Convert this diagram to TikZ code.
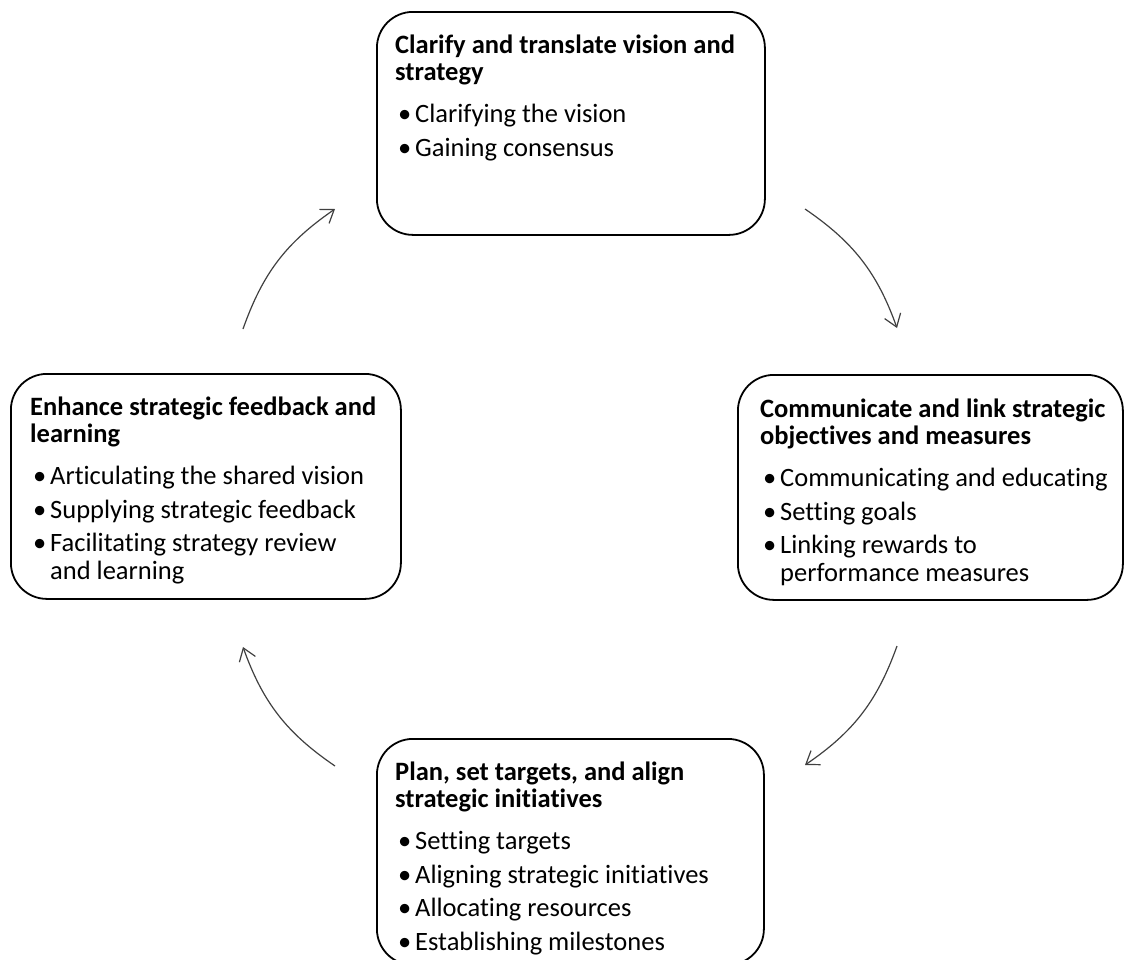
\documentclass[tikz,border=0pt]{standalone}
\usepackage{fontspec}
\setmainfont{Carlito}[Ligatures=NoCommon]
\usetikzlibrary{arrows.meta}

\tikzset{
  stage/.style={draw=black, line width=1.8pt, rounded corners=36pt,
    inner sep=0pt, anchor=north west},
  stagetext/.style={anchor=base west, inner sep=0pt,
    font=\fontsize{26.5}{27.5}\selectfont},
  cycle/.style={draw=black!75, line width=1.2pt,
    -{Straight Barb[length=12pt,width=17pt]}, bend left=18},
}

% heading and bullet lines inside a stage box
\newcommand\stagehead[1]{\textbf{#1}\par\vspace{14.5pt}}
\newcommand\stageitem[1]{\par\hangindent=20pt\hangafter=1\noindent
  \makebox[20pt][l]{\hspace{3pt}•}#1\par\vspace{6pt}}
\newcommand\stagebody[1]{\parbox[t]{420pt}{#1}}

\begin{document}
\begin{tikzpicture}[x=1pt, y=-1pt]
  \useasboundingbox (0,0) rectangle (1124,959);

  % the four stage boxes
  \node[stage, minimum width=388pt, minimum height=223pt] (clarify) at (376,11) {};
  \node[stage, minimum width=390pt, minimum height=225pt] (enhance) at (10,373) {};
  \node[stage, minimum width=385pt, minimum height=225pt] (communicate) at (737,374) {};
  \node[stage, minimum width=387pt, minimum height=226pt] (plan) at (376,738) {};

  % their texts
  \node[stagetext] (clarifytxt) at (395,53) {\stagebody{%
    \stagehead{Clarify and translate vision and\newline strategy}%
    \stageitem{Clarifying the vision}%
    \stageitem{Gaining consensus}}};

  \node[stagetext] (enhancetxt) at (30,415) {\stagebody{%
    \stagehead{Enhance strategic feedback and\newline learning}%
    \stageitem{Articulating the shared vision}%
    \stageitem{Supplying strategic feedback}%
    \stageitem{Facilitating strategy review\newline and learning}}};

  \node[stagetext] (communicatetxt) at (760,417) {\stagebody{%
    \stagehead{Communicate and link strategic\newline objectives and measures}%
    \stageitem{Communicating and educating}%
    \stageitem{Setting goals}%
    \stageitem{Linking rewards to\newline performance measures}}};

  \node[stagetext] (plantxt) at (395,780) {\stagebody{%
    \stagehead{Plan, set targets, and align\newline strategic initiatives}%
    \stageitem{Setting targets}%
    \stageitem{Aligning strategic initiatives}%
    \stageitem{Allocating resources}%
    \stageitem{Establishing milestones}}};

  % end points of the cycle arrows
  \coordinate (c1s) at (805,209);
  \coordinate (c1e) at (897,328);
  \coordinate (c2s) at (897,646);
  \coordinate (c2e) at (805,765);
  \coordinate (c3s) at (335,766);
  \coordinate (c3e) at (243,647);
  \coordinate (c4s) at (243,329);
  \coordinate (c4e) at (335,209);

  \draw[cycle] (c1s) to (c1e);
  \draw[cycle] (c2s) to (c2e);
  \draw[cycle] (c3s) to (c3e);
  \draw[cycle] (c4s) to (c4e);
\end{tikzpicture}
\end{document}
